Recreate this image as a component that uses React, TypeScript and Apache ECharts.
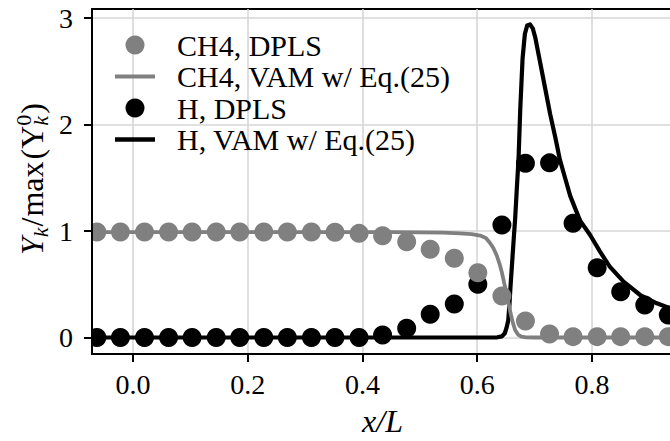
import React, { useEffect, useRef } from "react";
import * as echarts from "echarts";

// ---- data ----
const dplsX = [
  -0.063, -0.022, 0.02, 0.062, 0.103, 0.145, 0.186, 0.228, 0.269, 0.311, 0.352, 0.394, 0.435,
  0.477, 0.518, 0.56, 0.601, 0.643, 0.684, 0.726, 0.767, 0.809, 0.85, 0.892, 0.933,
];
const ch4Dpls = [
  0.99, 0.99, 0.99, 0.99, 0.99, 0.99, 0.99, 0.99, 0.99, 0.99, 0.988, 0.978, 0.956,
  0.9, 0.828, 0.744, 0.608, 0.39, 0.155, 0.033, 0.008, 0.008, 0.008, 0.008, 0.008,
];
const hDpls = [
  0.0, 0.0, 0.0, 0.0, 0.0, 0.0, 0.0, 0.0, 0.0, 0.0, 0.0, 0.0, 0.023,
  0.086, 0.218, 0.315, 0.5, 1.056, 1.636, 1.64, 1.072, 0.655, 0.43, 0.305, 0.211,
];
const ch4VamX = [
  -0.08, 0.45, 0.54, 0.57, 0.59, 0.605, 0.615, 0.622, 0.628, 0.634, 0.639, 0.643, 0.647,
  0.651, 0.655, 0.658, 0.662, 0.666, 0.671, 0.677, 0.685, 0.7, 0.96,
];
const ch4VamY = [
  0.99, 0.99, 0.985, 0.978, 0.97, 0.957, 0.935, 0.89, 0.84, 0.77, 0.69, 0.61, 0.51,
  0.42, 0.31, 0.23, 0.14, 0.07, 0.028, 0.008, 0.002, 0.0, 0.0,
];
const hVamX = [
  -0.08, 0.62, 0.635, 0.643, 0.648, 0.651, 0.654, 0.656, 0.658, 0.66, 0.662, 0.664, 0.666,
  0.669, 0.672, 0.675, 0.679, 0.683, 0.687, 0.692, 0.697, 0.701, 0.709, 0.718, 0.727, 0.736,
  0.744, 0.753, 0.762, 0.779, 0.797, 0.814, 0.831, 0.855, 0.884, 0.913, 0.936, 0.96,
];
const hVamY = [
  0.0, 0.0, 0.002, 0.01, 0.04, 0.09, 0.16, 0.3, 0.48, 0.64, 0.8, 0.96, 1.11,
  1.4, 1.68, 2.15, 2.62, 2.85, 2.93, 2.94, 2.9, 2.82, 2.6, 2.35, 2.1, 1.88,
  1.67, 1.5, 1.33, 1.1, 0.96, 0.806, 0.665, 0.524, 0.399, 0.321, 0.274, 0.245,
];
const xTicks = [0, 0.2, 0.4, 0.6, 0.8];
const yTicks = [0, 1, 2, 3];
const seriesNames = ["CH4, DPLS", "CH4, VAM w/ Eq.(25)", "H, DPLS", "H, VAM w/ Eq.(25)"];

const FONT = "Liberation Serif";
const GRAY = "#808080";
const BLACK = "#000000";
const Y_MIN = -0.155;
const Y_MAX = 3.085;

function zip(xs: number[], ys: number[]) {
  return xs.map((x, i) => [x, ys[i]]);
}

function buildYLabel() {
  const ctx = document.createElement("canvas").getContext("2d") as CanvasRenderingContext2D;
  const M = 32;
  const S = 22;
  const meas = (t: string, s: number, it: boolean) => {
    ctx.font = `${it ? "italic " : ""}${s}px "Liberation Serif"`;
    return ctx.measureText(t).width;
  };
  type P = { t: string; s: number; it: boolean; dy: number; stack?: boolean; gap?: number };
  const pieces: P[] = [
    { t: "Y", s: M, it: true, dy: 0 },
    { t: "k", s: S, it: true, dy: 8, gap: 1 },
    { t: "/", s: M, it: false, dy: 0, gap: 1 },
    { t: "max", s: M, it: false, dy: 0, gap: 2 },
    { t: "(", s: M, it: false, dy: 0 },
    { t: "Y", s: M, it: false, dy: 0 },
    { t: "0", s: S, it: false, dy: -9, stack: true },
    { t: "k", s: S, it: true, dy: 8, gap: 1 },
    { t: ")", s: M, it: false, dy: 0 },
  ];
  const placed: any[] = [];
  let x = 0;
  for (let i = 0; i < pieces.length; i++) {
    const p = pieces[i];
    const w = meas(p.t, p.s, p.it);
    placed.push({ p, x });
    if (p.stack) {
      const q = pieces[i + 1];
      const w2 = meas(q.t, q.s, q.it);
      placed.push({ p: q, x });
      x += Math.max(w, w2) + (q.gap || 0);
      i++;
    } else {
      x += w + (p.gap || 0);
    }
  }
  const total = x;
  return {
    type: "group",
    x: 32,
    y: 179,
    rotation: Math.PI / 2,
    silent: true,
    children: placed.map(({ p, x: px }) => ({
      type: "text",
      x: px - total / 2,
      y: p.dy,
      style: {
        text: p.t,
        fontSize: p.s,
        fontFamily: FONT,
        fontStyle: p.it ? "italic" : "normal",
        fill: "#000",
        align: "left",
        verticalAlign: "middle",
      },
    })),
  };
}

export default function App() {
  const ref = useRef<HTMLDivElement>(null);
  useEffect(() => {
    if (!ref.current) return;
    const chart = echarts.init(ref.current, null, { renderer: "svg" });
    const option: any = {
      animation: false,
      backgroundColor: "#ffffff",
      textStyle: { fontFamily: FONT },
      grid: {
        left: 92,
        top: 9,
        right: -3,
        bottom: 87,
        show: true,
        borderColor: "#000",
        borderWidth: 2,
        backgroundColor: "transparent",
        containLabel: false,
        outerBoundsMode: "none",
      },
      legend: {
        show: true,
        orient: "vertical",
        left: 115,
        top: 30,
        padding: 0,
        itemGap: 1.5,
        itemWidth: 40,
        itemHeight: 19,
        selectedMode: false,
        textStyle: { fontSize: 30, fontFamily: FONT, color: "#000", padding: [0, 0, 0, 17] },
        data: [
          { name: seriesNames[0], icon: "circle", itemStyle: { color: GRAY, borderWidth: 0, opacity: 1 } },
          { name: seriesNames[1], icon: "path://M0,0H40V4H0Z", itemStyle: { color: GRAY, borderWidth: 0, opacity: 1 } },
          { name: seriesNames[2], icon: "circle", itemStyle: { color: BLACK, borderWidth: 0, opacity: 1 } },
          { name: seriesNames[3], icon: "path://M0,0H40V4.4H0Z", itemStyle: { color: BLACK, borderWidth: 0, opacity: 1 } },
        ],
      },
      xAxis: {
        type: "value",
        min: -0.0715,
        max: 0.9412,
        position: "bottom",
        axisLine: { show: true, onZero: false, lineStyle: { color: "#000", width: 2 } },
        axisTick: { show: true, inside: false, length: 8, lineStyle: { color: "#000", width: 2 }, customValues: xTicks },
        axisLabel: {
          show: true,
          customValues: xTicks,
          formatter: (v: number) => v.toFixed(1),
          margin: 16,
          color: "#000",
          fontSize: 28,
          fontFamily: FONT,
        },
        splitLine: { show: true, lineStyle: { color: "#d6d6d6", width: 1.6 } },
        name: "x/L",
        nameLocation: "middle",
        nameGap: 51,
        nameTextStyle: { fontSize: 32, fontFamily: FONT, fontStyle: "italic", color: "#000" },
      },
      yAxis: [
        {
          // grid lines only (drawn beneath the data)
          type: "value",
          min: Y_MIN,
          max: Y_MAX,
          position: "left",
          axisLine: { show: false },
          axisTick: { show: false, customValues: yTicks },
          axisLabel: { show: false, customValues: yTicks },
          splitLine: { show: true, lineStyle: { color: "#d6d6d6", width: 1.6 } },
        },
        {
          // frame line, ticks and labels (drawn above the data)
          type: "value",
          min: Y_MIN,
          max: Y_MAX,
          position: "left",
          z: 12,
          axisLine: { show: true, onZero: false, lineStyle: { color: "#000", width: 2 } },
          axisTick: { show: true, inside: false, length: 8, lineStyle: { color: "#000", width: 2 }, customValues: yTicks },
          axisLabel: {
            show: true,
            customValues: yTicks,
            formatter: (v: number) => String(v),
            margin: 19,
            color: "#000",
            fontSize: 28,
            fontFamily: FONT,
          },
          splitLine: { show: false },
        },
      ],
      graphic: [
        buildYLabel(),
        {
          // white mask: clips the marker parts that overflow left of the plot frame
          type: "rect",
          z: 10,
          silent: true,
          shape: { x: 76, y: 215, width: 15, height: 137 },
          style: { fill: "#ffffff" },
        },
      ],
      series: [
        {
          name: seriesNames[2],
          type: "scatter",
          yAxisIndex: 0,
          data: zip(dplsX, hDpls),
          symbol: "circle",
          symbolSize: 19,
          itemStyle: { color: BLACK, borderWidth: 0, opacity: 1 },
          z: 2,
        },
        {
          name: seriesNames[3],
          type: "line",
          yAxisIndex: 0,
          data: zip(hVamX, hVamY),
          symbol: "none",
          showSymbol: false,
          smooth: false,
          clip: true,
          color: BLACK,
          lineStyle: { color: BLACK, width: 4.2, join: "round", cap: "round", opacity: 1 },
          z: 3,
        },
        {
          name: seriesNames[0],
          type: "scatter",
          yAxisIndex: 0,
          data: zip(dplsX, ch4Dpls),
          symbol: "circle",
          symbolSize: 19,
          itemStyle: { color: GRAY, borderWidth: 0, opacity: 1 },
          z: 4,
        },
        {
          name: seriesNames[1],
          type: "line",
          yAxisIndex: 0,
          data: zip(ch4VamX, ch4VamY),
          symbol: "none",
          showSymbol: false,
          smooth: false,
          clip: true,
          color: GRAY,
          lineStyle: { color: GRAY, width: 3.8, join: "round", cap: "round", opacity: 1 },
          z: 5,
        },
      ],
    };
    chart.setOption(option);
    return () => chart.dispose();
  }, []);
  return (
    <div
      ref={ref}
      style={{ position: "fixed", left: 0, top: 0, width: 670, height: 441, background: "#fff" }}
    />
  );
}
